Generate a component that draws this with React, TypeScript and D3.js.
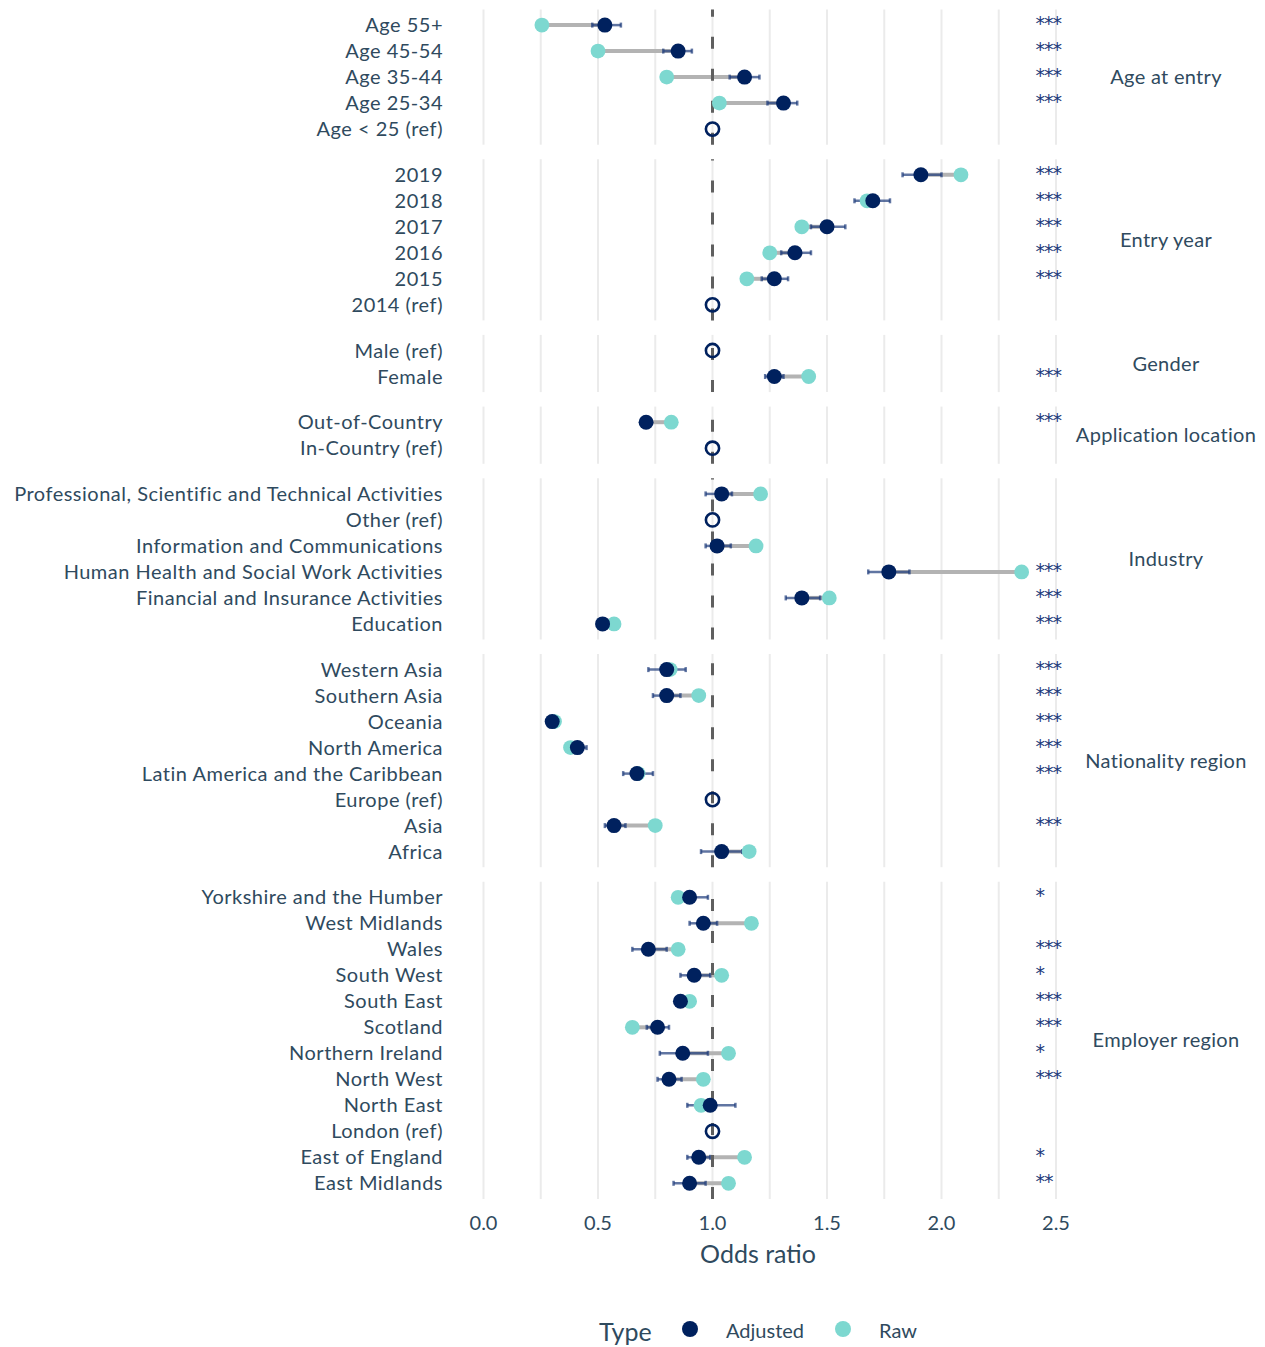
import * as d3 from "d3";

// ---- data (top to bottom, as drawn) ----
const ageLabels = ["Age 55+", "Age 45-54", "Age 35-44", "Age 25-34", "Age < 25 (ref)"];
const ageAdj = [0.53, 0.85, 1.14, 1.31, 1];
const ageRaw = [0.255, 0.5, 0.8, 1.03, null];
const ageLo = [0.475, 0.785, 1.075, 1.24, null];
const ageHi = [0.6, 0.91, 1.205, 1.37, null];
const ageSig = ["***", "***", "***", "***", ""];

const yearLabels = ["2019", "2018", "2017", "2016", "2015", "2014 (ref)"];
const yearAdj = [1.91, 1.7, 1.5, 1.36, 1.27, 1];
const yearRaw = [2.085, 1.675, 1.39, 1.25, 1.15, null];
const yearLo = [1.83, 1.62, 1.43, 1.3, 1.215, null];
const yearHi = [2.0, 1.775, 1.58, 1.43, 1.33, null];
const yearSig = ["***", "***", "***", "***", "***", ""];

const genderLabels = ["Male (ref)", "Female"];
const genderAdj = [1, 1.27];
const genderRaw = [null, 1.42];
const genderLo = [null, 1.23];
const genderHi = [null, 1.31];
const genderSig = ["", "***"];

const locLabels = ["Out-of-Country", "In-Country (ref)"];
const locAdj = [0.71, 1];
const locRaw = [0.82, null];
const locLo = [0.69, null];
const locHi = [0.73, null];
const locSig = ["***", ""];

const indLabels = [
	"Professional, Scientific and Technical Activities",
	"Other (ref)",
	"Information and Communications",
	"Human Health and Social Work Activities",
	"Financial and Insurance Activities",
	"Education",
];
const indAdj = [1.04, 1, 1.02, 1.77, 1.39, 0.52];
const indRaw = [1.21, null, 1.19, 2.35, 1.51, 0.57];
const indLo = [0.97, null, 0.97, 1.68, 1.32, 0.5];
const indHi = [1.085, null, 1.08, 1.86, 1.47, 0.54];
const indSig = ["", "", "", "***", "***", "***"];

const natLabels = [
	"Western Asia",
	"Southern Asia",
	"Oceania",
	"North America",
	"Latin America and the Caribbean",
	"Europe (ref)",
	"Asia",
	"Africa",
];
const natAdj = [0.8, 0.8, 0.3, 0.41, 0.67, 1, 0.57, 1.04];
const natRaw = [0.815, 0.94, 0.31, 0.38, 0.675, null, 0.75, 1.16];
const natLo = [0.72, 0.74, 0.29, 0.37, 0.61, null, 0.53, 0.95];
const natHi = [0.883, 0.86, 0.32, 0.45, 0.74, null, 0.62, 1.13];
const natSig = ["***", "***", "***", "***", "***", "", "***", ""];

const empLabels = [
	"Yorkshire and the Humber",
	"West Midlands",
	"Wales",
	"South West",
	"South East",
	"Scotland",
	"Northern Ireland",
	"North West",
	"North East",
	"London (ref)",
	"East of England",
	"East Midlands",
];
const empAdj = [0.9, 0.96, 0.72, 0.92, 0.86, 0.76, 0.87, 0.81, 0.99, 1, 0.94, 0.9];
const empRaw = [0.85, 1.17, 0.85, 1.04, 0.9, 0.65, 1.07, 0.96, 0.95, null, 1.14, 1.07];
const empLo = [0.86, 0.9, 0.65, 0.86, 0.84, 0.713, 0.77, 0.76, 0.89, null, 0.89, 0.83];
const empHi = [0.98, 1.02, 0.8, 0.99, 0.88, 0.81, 0.98, 0.865, 1.1, null, 0.99, 0.97];
const empSig = ["*", "", "***", "*", "***", "***", "*", "***", "", "", "*", "**"];

const groups = [
	{ name: "Age at entry", labels: ageLabels, adj: ageAdj, raw: ageRaw, lo: ageLo, hi: ageHi, sig: ageSig },
	{ name: "Entry year", labels: yearLabels, adj: yearAdj, raw: yearRaw, lo: yearLo, hi: yearHi, sig: yearSig },
	{ name: "Gender", labels: genderLabels, adj: genderAdj, raw: genderRaw, lo: genderLo, hi: genderHi, sig: genderSig },
	{ name: "Application location", labels: locLabels, adj: locAdj, raw: locRaw, lo: locLo, hi: locHi, sig: locSig },
	{ name: "Industry", labels: indLabels, adj: indAdj, raw: indRaw, lo: indLo, hi: indHi, sig: indSig },
	{ name: "Nationality region", labels: natLabels, adj: natAdj, raw: natRaw, lo: natLo, hi: natHi, sig: natSig },
	{ name: "Employer region", labels: empLabels, adj: empAdj, raw: empRaw, lo: empLo, hi: empHi, sig: empSig },
];

const xTicks = [0, 0.5, 1, 1.5, 2, 2.5];
const xGrid = d3.range(0, 2.51, 0.25);
const refValue = 1;
const sigPos = 2.41;

// ---- style ----
const W = 1265;
const H = 1347;
const FONT = "Lato, Carlito, 'DejaVu Sans', sans-serif";
const TEXT = "#2f4a5e";
const NAVY = "#00215e";
const TEAL = "#7dd8d0";
const ROW = 26;
const PAD = 0.6;
const GAP = 14.5;

export default function App() {
	const x = d3.scaleLinear().domain([0, 2.5]).range([483.5, 1056]);

	let top = 9.5;
	const panels = groups.map((g) => {
		const h = (g.labels.length - 1 + 2 * PAD) * ROW;
		const y = d3
			.scalePoint<string>()
			.domain(g.labels)
			.range([top, top + h])
			.padding(PAD);
		const p = { g, y, top, bottom: top + h };
		top += h + GAP;
		return p;
	});
	const plotBottom = panels[panels.length - 1].bottom;

	return (
		<svg
			width={W}
			height={H}
			style={{ position: "absolute", left: 0, top: 0, background: "#fff" }}
			fontFamily={FONT}
		>
			{panels.map(({ g, y, top: pt, bottom: pb }) => (
				<g key={g.name}>
					{/* grid */}
					{xGrid.map((v) => (
						<line key={v} x1={x(v)} x2={x(v)} y1={pt} y2={pb} stroke="#ebebeb" strokeWidth={2} />
					))}
					{/* raw -> adjusted segments */}
					{g.labels.map((l, i) =>
						g.raw[i] == null ? null : (
							<line
								key={"s" + l}
								x1={x(g.raw[i] as number)}
								x2={x(g.adj[i])}
								y1={y(l)}
								y2={y(l)}
								stroke="#b3b3b3"
								strokeWidth={4}
							/>
						),
					)}
					{/* confidence intervals */}
					{g.labels.map((l, i) => {
						if (g.lo[i] == null) return null;
						const yy = y(l) as number;
						const a = x(g.lo[i] as number);
						const b = x(g.hi[i] as number);
						return (
							<g key={"e" + l} stroke="#1d3b7a" strokeOpacity={0.7} strokeWidth={2.5}>
								<line x1={a} x2={b} y1={yy} y2={yy} />
								<line x1={a} x2={a} y1={yy - 2.5} y2={yy + 2.5} />
								<line x1={b} x2={b} y1={yy - 2.5} y2={yy + 2.5} />
							</g>
						);
					})}
					{/* reference line */}
					<line
						x1={x(refValue)}
						x2={x(refValue)}
						y1={pb}
						y2={pt}
						stroke="#5f5f5f"
						strokeWidth={3}
						strokeDasharray="12 20"
					/>
					{/* raw points */}
					{g.labels.map((l, i) =>
						g.raw[i] == null ? null : (
							<circle key={"r" + l} cx={x(g.raw[i] as number)} cy={y(l)} r={7.4} fill={TEAL} />
						),
					)}
					{/* adjusted points */}
					{g.labels.map((l, i) =>
						g.lo[i] == null ? (
							<circle
								key={"a" + l}
								cx={x(g.adj[i])}
								cy={y(l)}
								r={6.6}
								fill="none"
								stroke={NAVY}
								strokeWidth={2.6}
							/>
						) : (
							<circle key={"a" + l} cx={x(g.adj[i])} cy={y(l)} r={7.5} fill={NAVY} />
						),
					)}
					{/* significance */}
					{g.labels.map((l, i) =>
						g.sig[i] ? (
							<text
								key={"t" + l}
								x={x(sigPos)}
								y={(y(l) as number) + 5}
								fontSize={19}
								fontFamily="'DejaVu Sans', sans-serif"
								fill="#1d3b7a"
								letterSpacing={-1}
							>
								{g.sig[i]}
							</text>
						) : null,
					)}
					{/* row labels */}
					{g.labels.map((l) => (
						<text
							key={"l" + l}
							x={443}
							y={y(l)}
							dy="0.35em"
							textAnchor="end"
							fontSize={20}
							letterSpacing={0.5}
							fill={TEXT}
						>
							{l}
						</text>
					))}
					{/* strip label */}
					<text
						x={1166}
						y={(pt + pb) / 2}
						dy="0.35em"
						textAnchor="middle"
						fontSize={20}
						letterSpacing={0.3}
						fill={TEXT}
					>
						{g.name}
					</text>
				</g>
			))}

			{/* x axis */}
			{xTicks.map((t) => (
				<text
					key={t}
					x={x(t)}
					y={plotBottom + 24}
					dy="0.35em"
					textAnchor="middle"
					fontSize={20}
					fill={TEXT}
				>
					{d3.format(".1f")(t)}
				</text>
			))}
			<text x={758} y={plotBottom + 55} dy="0.35em" textAnchor="middle" fontSize={25} fill={TEXT}>
				Odds ratio
			</text>

			{/* legend */}
			<g fontSize={20} fill={TEXT}>
				<text x={599} y={1332} dy="0.35em" fontSize={25}>
					Type
				</text>
				<circle cx={690} cy={1329} r={8} fill={NAVY} />
				<text x={726} y={1331} dy="0.35em">
					Adjusted
				</text>
				<circle cx={843} cy={1329} r={8} fill={TEAL} />
				<text x={879} y={1331} dy="0.35em">
					Raw
				</text>
			</g>
		</svg>
	);
}
